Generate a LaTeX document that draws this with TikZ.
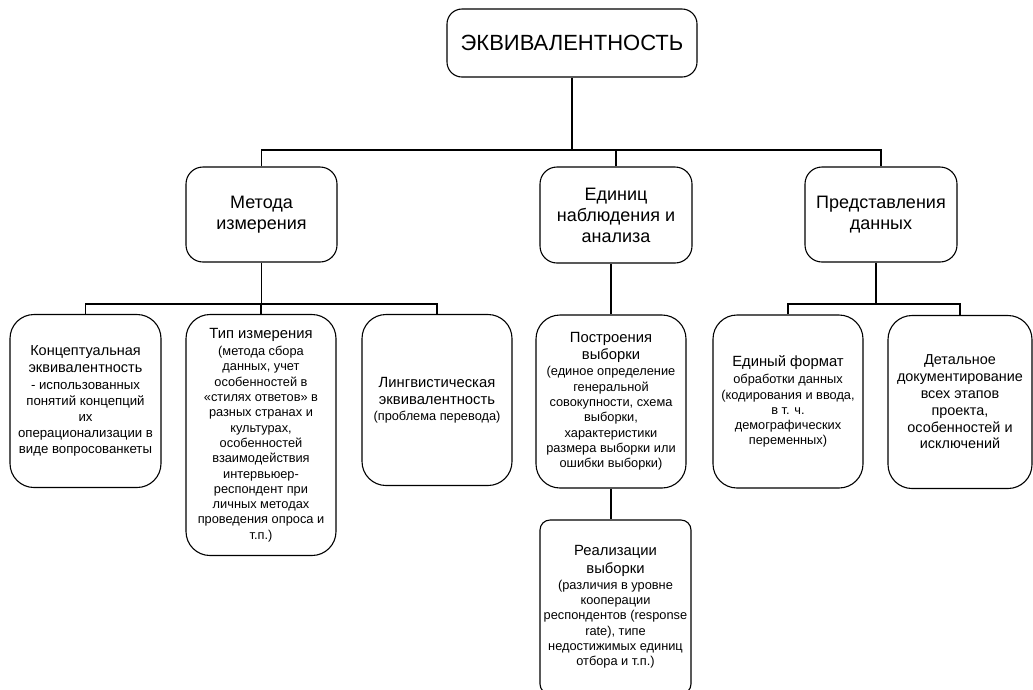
\documentclass[tikz,border=0pt]{standalone}
\usepackage{fontspec}
\setmainfont{Liberation Sans}
\newcommand{\tsz}{\fontsize{14.8}{17}\selectfont}
\newcommand{\ssz}{\fontsize{12.8}{15.3}\selectfont}
\newcommand{\msz}{\fontsize{13.2}{16}\selectfont}
\newcommand{\wsz}{\fontsize{14.4}{16.8}\selectfont}
\begin{document}
\begin{tikzpicture}[x=1pt,y=-1pt,
  bx/.style={draw, line width=1.1pt, align=center, inner sep=0pt},
  topbox/.style={bx, rounded corners=15pt, minimum width=250pt, minimum height=68pt, font=\fontsize{22}{26}\selectfont},
  midbox/.style={bx, rounded corners=17pt, minimum width=151pt, minimum height=95pt, font=\fontsize{18}{21}\selectfont},
  lowbox/.style={bx, rounded corners=24pt, minimum width=150pt, minimum height=173pt, font=\ssz},
  conn/.style={line width=1.6pt},
  thin/.style={line width=1.2pt}]
\useasboundingbox (0,0) rectangle (1033,689);
\clip (0,0) rectangle (1033,689);

\node[topbox] (top) at (572,43) {ЭКВИВАЛЕНТНОСТЬ};

\node[midbox] (m1) at (261.5,214.5) {Метода\\измерения};
\node[midbox, minimum width=152pt, minimum height=96pt] (m2) at (616,215) {Единиц\\наблюдения и\\анализа};
\node[midbox, minimum width=152pt] (m3) at (881,214.5) {Представления\\данных};

\node[lowbox, minimum width=151pt, font=\msz] (b1) at (85.5,401)
  {{\fontsize{14.5}{16.5}\selectfont Концептуальная}\\[1pt]{\fontsize{14.5}{16.5}\selectfont эквивалентность}\\[1pt] - использованных\\понятий концепций\\их\\операционализации в\\виде вопросованкеты};
\node[lowbox, minimum height=241pt] (b2) at (261,435)
  {{\tsz Тип измерения}\\[2pt](метода сбора\\данных, учет\\особенностей в\\«стилях ответов» в\\разных странах и\\культурах,\\особенностей\\взаимодействия\\интервьюер-\\респондент при\\личных методах\\проведения опроса и\\т.п.)};
\node[lowbox, minimum height=171pt] (b3) at (437,400)
  {{\tsz Лингвистическая}\\[1.5pt]{\tsz эквивалентность}\\[1pt](проблема перевода)};
\node[lowbox] (b4) at (611,401.5)
  {{\tsz Построения}\\[1.5pt]{\tsz выборки}\\[1pt](единое определение\\генеральной\\совокупности, схема\\выборки,\\характеристики\\размера выборки или\\ошибки выборки)};
\node[lowbox, rounded corners=10pt, minimum width=151pt, minimum height=174pt] (b5) at (615.5,607)
  {{\tsz Реализации}\\[2pt]{\tsz выборки}\\[1pt](различия в уровне\\кооперации\\респондентов (response\\rate), типе\\недостижимых единиц\\отбора и т.п.)};
\node[lowbox] (b6) at (788,401.5)
  {{\tsz Единый формат}\\[2pt]обработки данных\\(кодирования и ввода,\\в т. ч.\\демографических\\переменных)};
\node[lowbox, minimum width=144pt, font=\wsz] (b7) at (960,402)
  {Детальное\\документирование\\всех этапов\\проекта,\\особенностей и\\исключений};

\coordinate (bar) at (0,150);
\coordinate (lb) at (0,304);
\coordinate (m3s) at (876,0);

\draw[thin] (top.south) -- (top.south |- bar);
\draw[conn] (m1.north) -- (m1.north |- bar) -- (m3.north |- bar) -- (m3.north);
\draw[conn] (m2.north) -- (m2.north |- bar);

\draw[conn] (m1.south) -- (m1.south |- lb);
\draw[conn] (b1.north) -- (b1.north |- lb) -- (b3.north |- lb) -- (b3.north);
\draw[conn] (b2.north) -- (b2.north |- lb);

\draw[conn] (b4.north) -- (b4.north |- m2.south);
\draw[conn] (b4.south) -- (b4.south |- b5.north);

\draw[conn] (m3s |- m3.south) -- (m3s |- lb);
\draw[conn] (b6.north) -- (b6.north |- lb) -- (b7.north |- lb) -- (b7.north);
\end{tikzpicture}
\end{document}
